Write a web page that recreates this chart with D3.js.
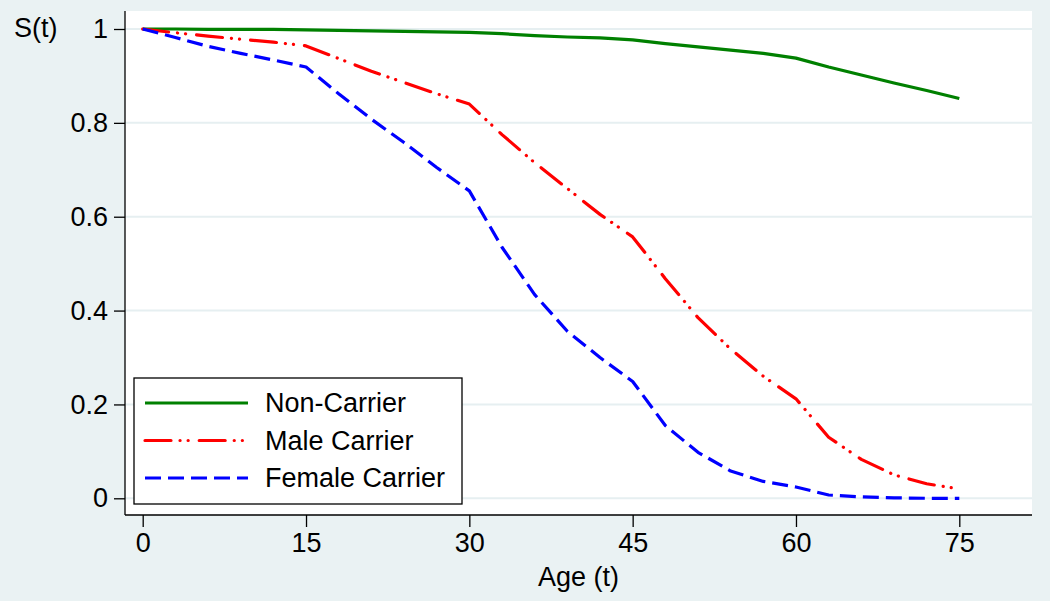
<!DOCTYPE html>
<html>
<head>
<meta charset="utf-8">
<script src="https://cdn.jsdelivr.net/npm/d3@7"></script>
<style>
  body { margin: 0; background: #eaf2f3; }
  text { font-family: "Liberation Sans", Arial, sans-serif; fill: #000; }
</style>
</head>
<body>
<div id="chart-area"></div>
<script>
// survival curves by age
const ages = [0, 3, 6, 9, 12, 15, 18, 21, 24, 27, 30, 33, 36, 39, 42, 45, 48, 51, 54, 57, 60, 63, 66, 69, 72, 75]
const nonCarrier = [1.0, 1.0, 0.999, 0.999, 0.999, 0.998, 0.997, 0.996, 0.995, 0.994, 0.993, 0.990, 0.986, 0.983, 0.981, 0.977, 0.969, 0.962, 0.955, 0.948, 0.938, 0.919, 0.902, 0.885, 0.869, 0.852]
const maleCarrier = [1.0, 0.992, 0.985, 0.978, 0.972, 0.964, 0.937, 0.910, 0.886, 0.862, 0.840, 0.775, 0.715, 0.660, 0.605, 0.557, 0.468, 0.385, 0.318, 0.260, 0.212, 0.130, 0.083, 0.050, 0.031, 0.020]
const femaleCarrier = [1.0, 0.982, 0.963, 0.948, 0.934, 0.919, 0.862, 0.808, 0.758, 0.705, 0.655, 0.535, 0.434, 0.356, 0.300, 0.249, 0.155, 0.098, 0.058, 0.036, 0.024, 0.007, 0.003, 0.001, 0.0, 0.0]
const seriesNames = ["Non-Carrier", "Male Carrier", "Female Carrier"]
const xTicks = [0, 15, 30, 45, 60, 75]
const yTicks = [0, 0.2, 0.4, 0.6, 0.8, 1]

const W = 1050
const H = 601
const PLOT = { LEFT: 125, RIGHT: 1032, TOP: 11, BOTTOM: 515 }
const FONT = "27px"

const styles = [
  { color: "#008000", dash: null, width: 3.2, cap: "butt" },
  { color: "#ff0000", dash: "26,9,0.1,8,0.1,11", width: 3.2, cap: "round" },
  { color: "#0000ff", dash: "16,7", width: 3.2, cap: "butt" }
]

const svg = d3.select("#chart-area").append("svg")
  .attr("width", W)
  .attr("height", H)

svg.append("rect")
  .attr("width", W).attr("height", H)
  .attr("fill", "#eaf2f3")

// plot region
svg.append("rect")
  .attr("x", PLOT.LEFT).attr("y", PLOT.TOP)
  .attr("width", PLOT.RIGHT - PLOT.LEFT)
  .attr("height", PLOT.BOTTOM - PLOT.TOP)
  .attr("fill", "#fff")

const x = d3.scaleLinear()
  .domain([0, 75])
  .range([142.7, 959.3])

const y = d3.scaleLinear()
  .domain([0, 1])
  .range([498.3, 29])

// gridlines
svg.append("g").selectAll("line")
  .data(yTicks)
  .enter().append("line")
  .attr("x1", PLOT.LEFT).attr("x2", PLOT.RIGHT)
  .attr("y1", d => y(d)).attr("y2", d => y(d))
  .attr("stroke", "#e6eff1")
  .attr("stroke-width", 2)

// axes
const yAxisCall = d3.axisLeft(y)
  .tickValues(yTicks)
  .tickFormat(d => d3.format("")(+d.toFixed(1)))
  .tickSize(11)
  .tickPadding(6)
const yAxis = svg.append("g")
  .attr("transform", `translate(${PLOT.LEFT}, 0)`)
  .call(yAxisCall)
yAxis.select(".domain").remove()
yAxis.append("line")
  .attr("y1", PLOT.TOP).attr("y2", PLOT.BOTTOM)
  .attr("stroke", "#000").attr("stroke-width", 1.3)

const xAxisCall = d3.axisBottom(x)
  .tickValues(xTicks)
  .tickSize(12)
  .tickPadding(6)
const xAxis = svg.append("g")
  .attr("transform", `translate(0, ${PLOT.BOTTOM})`)
  .call(xAxisCall)
xAxis.select(".domain").remove()
xAxis.append("line")
  .attr("x1", PLOT.LEFT).attr("x2", PLOT.RIGHT)
  .attr("stroke", "#000").attr("stroke-width", 1.3)

svg.selectAll(".tick line").attr("stroke", "#000").attr("stroke-width", 1.3)
svg.selectAll(".tick text")
  .attr("font-size", FONT)
  .attr("font-family", "Liberation Sans, Arial, sans-serif")
  .attr("fill", "#000")

// axis titles
svg.append("text")
  .attr("x", 14).attr("y", 37)
  .attr("font-size", FONT)
  .text("S(t)")

svg.append("text")
  .attr("x", (PLOT.LEFT + PLOT.RIGHT) / 2)
  .attr("y", 586)
  .attr("text-anchor", "middle")
  .attr("font-size", FONT)
  .text("Age (t)")

// curves
const allSeries = [nonCarrier, maleCarrier, femaleCarrier]
const line = d3.line()
  .x((d, i) => x(ages[i]))
  .y(d => y(d))

svg.append("g").selectAll("path")
  .data(allSeries)
  .enter().append("path")
  .attr("d", d => line(d))
  .attr("fill", "none")
  .attr("stroke", (d, i) => styles[i].color)
  .attr("stroke-width", (d, i) => styles[i].width)
  .attr("stroke-dasharray", (d, i) => styles[i].dash)
  .attr("stroke-linecap", (d, i) => styles[i].cap)
  .attr("stroke-linejoin", "round")

// legend
const legend = svg.append("g")
  .attr("transform", "translate(134, 378)")

legend.append("rect")
  .attr("width", 328).attr("height", 126)
  .attr("fill", "#fff")
  .attr("stroke", "#000")
  .attr("stroke-width", 1.3)

const rows = legend.selectAll(".row")
  .data(seriesNames)
  .enter().append("g")
  .attr("transform", (d, i) => `translate(0, ${25 + i * 37.5})`)

rows.append("line")
  .attr("x1", 11).attr("x2", 114)
  .attr("stroke", (d, i) => styles[i].color)
  .attr("stroke-width", (d, i) => styles[i].width)
  .attr("stroke-dasharray", (d, i) => styles[i].dash)
  .attr("stroke-linecap", (d, i) => styles[i].cap)

rows.append("text")
  .attr("x", 131)
  .attr("dy", "0.35em")
  .attr("font-size", FONT)
  .text(d => d)
</script>
</body>
</html>
